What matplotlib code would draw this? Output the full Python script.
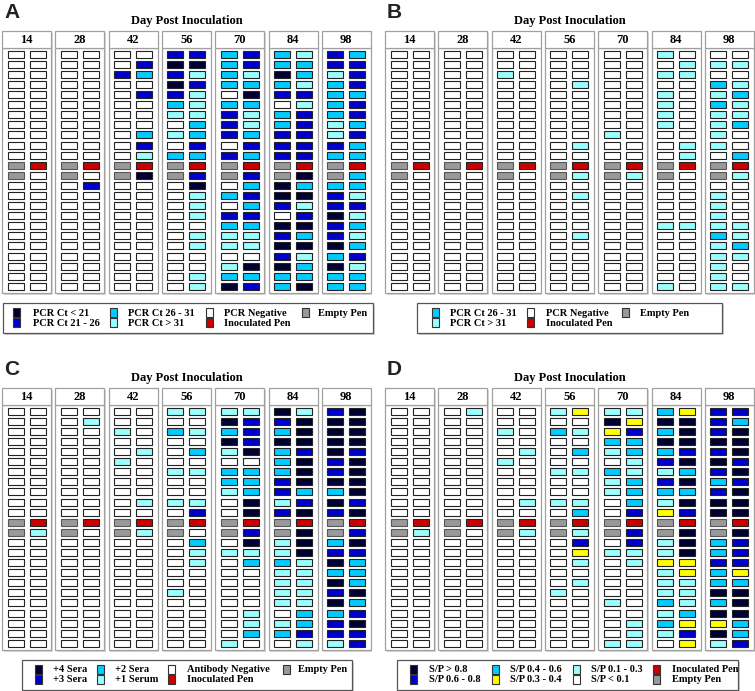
import matplotlib
matplotlib.use("Agg")
import matplotlib.pyplot as plt
from matplotlib.patches import Rectangle

# day columns, two pens per day, 24 rows each
days = ["14", "28", "42", "56", "70", "84", "98"]

# each row: 7 days x (left pen, right pen)
# N=darkest, B=blue, C=cyan, L=light cyan, Y=yellow, W=white, R=inoculated, G=empty
pcr_serum_rows = [
    "WWWWWWBBCBCLBC", "WWWWWBNNCBCCBB", "WWWWBCBLCLNCLB", "WWWWWWNBCCCLCB",
    "WWWWWBBLWNBBCC", "WWWWWWCLCCWLCB", "WWWWWWLLBLCBCB", "WWWWWWWCBLCBLC",
    "WWWWWCLCBCBBLB", "WWWWWBWBWBBBBC", "WWWWWLCCBCBBCC", "GRGRGRGRGRGRGR",
    "GWGWGNGBGBGNGC", "WWWBWWWNWCNCCC", "WWWWWWWLCBNNBL", "WWWWWWWLWCBLBB",
    "WWWWWWWLBBWBNL", "WWWWWWWWCCNNBC", "WWWWWWWLLLBCBL", "WWWWWWWLLLNNNC",
    "WWWWWWWWWWBLCB", "WWWWWWWWLNNCNL", "WWWWWWWLCCCCCC", "WWWWWWWLNBCNCC",
]

pcr_fluid_rows = [
    "WWWWWWWWWWLWWW", "WWWWWWWWWWWLLL", "WWWWLWWWWWLLWW", "WWWWWWWLWWWWCL",
    "WWWWWWWWWWLWLC", "WWWWWWWWWWLWCL", "WWWWWWWWWWLWLL", "WWWWWWWWWWLWLC",
    "WWWWWWWWLWWWLW", "WWWWWWWLWWWLLW", "WWWWWWWWWWWLWC", "GRGRGRGRGRGRGR",
    "GWGWGWGLGLGWGL", "WWWWWWWWWWWWWW", "WWWWWWWLWWWWLW", "WWWWWWWWWWWWLW",
    "WWWWWWWWWWWWLW", "WWWWWWWWWWLLLL", "WWWWWWWLWWWWCL", "WWWWWWWWWWWWLC",
    "WWWWWWWWWWWWLL", "WWWWWWWWWWWWLW", "WWWWWWWWWWWWLW", "WWWWWWWWWWLWLL",
]

antibody_rows = [
    "WWWWWWLLLLNLBN", "WWWLWWWWNBBNNN", "WWWWLWCLCBCNNN", "WWWWWWWWNBNNNN",
    "WWWWWLWCLNCBNB", "WWWWLWWWWWCNBN", "WWWWWWLLCCCNBN", "WWWWWWWWCCBNNN",
    "WWWWWWWWLCBCCN", "WWWWWLLLWNLBNB", "WWWWWWWBWNBNBN", "GRGRGRGRGRGRGR",
    "GLGWGLGWGBGNGB", "WWWWWWWCWNLNCN", "WWWWWWWLLLLNBB", "WWWWWWWLWCCLNC",
    "WWWWWWWWWWLLCC", "WWWWWWWWWWLLNC", "WWWWWWLWWWLLBN", "WWWWWWWWWWLLNC",
    "WWWWWWWWWLWCCB", "WWWWWWWWWLLCBN", "WWWWWWWWWCCBBB", "WWWWWWWWLWWLLB",
]

sp_rows = [
    "WWWLWWLYLLCYBB", "WWWWWWWWNYNNBC", "WWWWLWCLYBCNBN", "WWWWWWWWCCNNNN",
    "WWWWWLWCLCCBBN", "WWWWLWWWWLBNNB", "WWWWWWLLCLLCBN", "WWWWWWWWLCBNCB",
    "WWWWWWWWLCCCBN", "WWWWWLLLWCLNNN", "WWWWWWWCWBYBNN", "GRGRGRGRGRGRGR",
    "GLGWGLGLGBGNGN", "WWWWWWWBWBLNCB", "WWWWWWWYLLLNCB", "WWWWWWWLWLYYBB",
    "WWWWWWWWWWLYCY", "WWWWWWWLWWLLCC", "WWWWWWLWWWLLNN", "WWWWWWWWLWCLCN",
    "WWWWWWWWWWLCNN", "WWWWWWWWWLCYYC", "WWWWWWWWWLLBNC", "WWWWWWWWLLWYLB",
]

colors = {
    "N": "#000033", "B": "#0000cc", "C": "#00ccff", "L": "#99ffff",
    "Y": "#ffff00", "W": "#ffffff", "R": "#cc0000", "G": "#999999",
}

# legend columns: list of (code, label) per column
legend_a = [[("N", "PCR Ct < 21"), ("B", "PCR Ct 21 - 26")],
            [("C", "PCR Ct 26 - 31"), ("L", "PCR Ct > 31")],
            [("W", "PCR Negative"), ("R", "Inoculated Pen")],
            [("G", "Empty Pen")]]
legend_b = [[("C", "PCR Ct 26 - 31"), ("L", "PCR Ct > 31")],
            [("W", "PCR Negative"), ("R", "Inoculated Pen")],
            [("G", "Empty Pen")]]
legend_c = [[("N", "+4 Sera"), ("B", "+3 Sera")],
            [("C", "+2 Sera"), ("L", "+1 Serum")],
            [("W", "Antibody Negative"), ("R", "Inoculated Pen")],
            [("G", "Empty Pen")]]
legend_d = [[("N", "S/P > 0.8"), ("B", "S/P 0.6 - 0.8")],
            [("C", "S/P 0.4 - 0.6"), ("Y", "S/P 0.3 - 0.4")],
            [("L", "S/P 0.1 - 0.3"), ("W", "S/P < 0.1")],
            [("R", "Inoculated Pen"), ("G", "Empty Pen")]]

SERIF = "Liberation Serif"

fig = plt.figure(figsize=(7.55, 6.91), dpi=100)
ax = fig.add_axes([0, 0, 1, 1])
ax.set_xlim(0, 755)
ax.set_ylim(691, 0)
ax.axis("off")

DAY_STEP = 53.3
ROW_STEP = 10.09


def draw_panel(x0, y0, letter, rows, legend, box, sw_x, tx_x):
    ax.text(x0 + 4, y0 + 12, letter, fontsize=15, fontweight="bold",
            family="Liberation Sans", va="center", ha="left", color="#222222")
    ax.text(x0 + 187, y0 + 21, "Day Post Inoculation", fontsize=9,
            fontweight="bold", family=SERIF, ha="center", va="center")
    for i, d in enumerate(days):
        left = x0 + 2 + DAY_STEP * i
        # shadow + body + header
        ax.add_patch(Rectangle((left + 1.5, y0 + 32.5), 49, 262, fc="#d8d8d8", ec="none"))
        ax.add_patch(Rectangle((left, y0 + 48), 49, 245, fc="white", ec="#a0a0a0", lw=0.9))
        ax.add_patch(Rectangle((left, y0 + 31), 49, 17, fc="white", ec="#a0a0a0", lw=0.9))
        ax.text(left + 24.5, y0 + 40, d, fontsize=9, fontweight="bold",
                family=SERIF, ha="center", va="center")
        for r, row in enumerate(rows):
            for k in range(2):
                code = row[2 * i + k]
                ec = "#555555" if code == "G" else "#222222"
                ax.add_patch(Rectangle((left + 5.5 + 22 * k, y0 + 50.7 + ROW_STEP * r),
                                       16, 7, fc=colors[code], ec=ec, lw=0.8))
    # legend
    bx, bw = box
    ax.add_patch(Rectangle((x0 + bx + 1.5, y0 + 304.5), bw, 30, fc="#d0d0d0", ec="none"))
    ax.add_patch(Rectangle((x0 + bx, y0 + 303), bw, 30, fc="white", ec="#555555", lw=0.9))
    for c, col in enumerate(legend):
        for r, (code, label) in enumerate(col):
            ax.add_patch(Rectangle((x0 + sw_x[c], y0 + 308 + 10 * r), 7, 9,
                                   fc=colors[code], ec="#333333", lw=0.8))
            ax.text(x0 + tx_x[c], y0 + 313 + 10 * r, label, fontsize=7.5,
                    fontweight="bold", family=SERIF, ha="left", va="center")


draw_panel(0, 0, "A", pcr_serum_rows, legend_a, (3, 370),
           [13, 110, 206, 302], [33, 128, 224, 318])
draw_panel(383, 0, "B", pcr_fluid_rows, legend_b, (34, 305),
           [49, 144, 239], [67, 163, 257])
draw_panel(0, 357, "C", antibody_rows, legend_c, (22, 330),
           [35, 97, 168, 283], [53, 115, 187, 298])
draw_panel(383, 357, "D", sp_rows, legend_d, (14, 341),
           [27, 109, 190, 270], [46, 127, 208, 289])

fig.savefig("out.png", dpi=100)
